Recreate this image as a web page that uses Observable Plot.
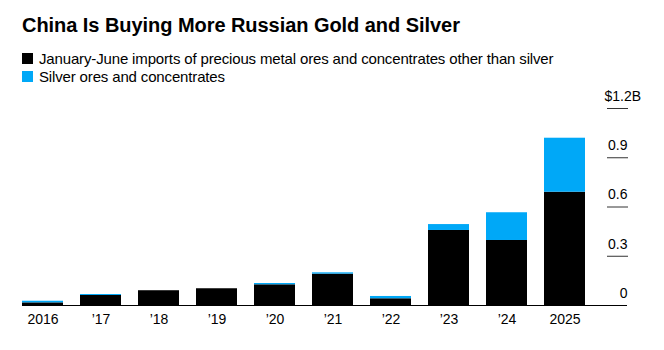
<!DOCTYPE html>
<html>
<head>
<meta charset="utf-8">
<script src="https://cdn.jsdelivr.net/npm/d3@7"></script>
<script src="https://cdn.jsdelivr.net/npm/@observablehq/plot@0.6"></script>
<style>
  body { margin: 0; background: #fff; font-family: "Liberation Sans", Arial, sans-serif; color: #000; }
  #wrap { position: relative; width: 664px; height: 350px; overflow: hidden; }
  #title { position: absolute; left: 22px; top: 14px; font-size: 20px; font-weight: bold; letter-spacing: -0.05px; white-space: nowrap; }
  .leg { position: absolute; left: 22px; font-size: 15px; white-space: nowrap; display: flex; align-items: center; letter-spacing: -0.15px; }
  .sw { width: 11px; height: 11px; margin-right: 6px; display: inline-block; }
  #chart { position: absolute; left: 0; top: 85px; }
</style>
</head>
<body>
<div id="wrap">
  <div id="title">China Is Buying More Russian Gold and Silver</div>
  <div class="leg" id="leg1" style="top:50px"><span class="sw" style="background:#000"></span>January-June imports of precious metal ores and concentrates other than silver</div>
  <div class="leg" id="leg2" style="top:68px"><span class="sw" style="background:#00a8f7"></span>Silver ores and concentrates</div>
  <div id="chart"></div>
</div>
<script>
const years = ["2016", "2017", "2018", "2019", "2020", "2021", "2022", "2023", "2024", "2025"];
const yearLabels = ["2016", "’17", "’18", "’19", "’20", "’21", "’22", "’23", "’24", "2025"];
const otherMetals = [0.016, 0.061, 0.090, 0.102, 0.126, 0.191, 0.041, 0.457, 0.396, 0.690];
const silver = [0.010, 0.006, 0.000, 0.000, 0.008, 0.008, 0.014, 0.036, 0.169, 0.329];
const seriesNames = ["January-June imports of precious metal ores and concentrates other than silver", "Silver ores and concentrates"];
const seriesColors = ["#000000", "#00a8f7"];
const yTicks = [0, 0.3, 0.6, 0.9];
const yTopTick = [1.2];

const data = [];
years.forEach((y, i) => {
  data.push({year: y, series: seriesNames[0], value: otherMetals[i]});
  data.push({year: y, series: seriesNames[1], value: silver[i]});
});
const labelOf = new Map(years.map((y, i) => [y, yearLabels[i]]));

const chart = Plot.plot({
  width: 664,
  height: 265,
  marginLeft: 22,
  marginRight: 58,
  marginTop: 23,
  marginBottom: 45,
  style: {fontFamily: "Liberation Sans, Arial, sans-serif", fontSize: "14px", color: "#000", background: "transparent"},
  x: {domain: years, paddingInner: 0.3, paddingOuter: 0.1215, align: 0, label: null},
  y: {domain: [0, 1.2], label: null},
  color: {domain: seriesNames, range: seriesColors},
  marks: [
    Plot.barY(data, {x: "year", y: "value", fill: "series", order: seriesNames}),
    Plot.ruleY([0], {stroke: "#000", strokeWidth: 1.2, insetRight: -21}),
    Plot.axisY(yTicks.concat(yTopTick).filter(d => d > 0), {anchor: "right", tickSize: 21, stroke: "#333", text: null, label: null}),
    Plot.axisY(yTicks, {anchor: "right", tickSize: 0, tickPadding: 21, textAnchor: "end", dy: -12, label: null, fontSize: 14, fill: "#000", tickFormat: d => String(d)}),
    Plot.axisY(yTopTick, {anchor: "right", tickSize: 0, tickPadding: -2, textAnchor: "start", dy: -12, label: null, fontSize: 14, fill: "#000", tickFormat: d => "$" + d + "B"}),
    Plot.axisX({tickSize: 0, tickPadding: 9, label: null, fontSize: 14, fill: "#000", tickFormat: d => labelOf.get(d)})
  ]
});
document.getElementById("chart").appendChild(chart);
</script>
</body>
</html>
